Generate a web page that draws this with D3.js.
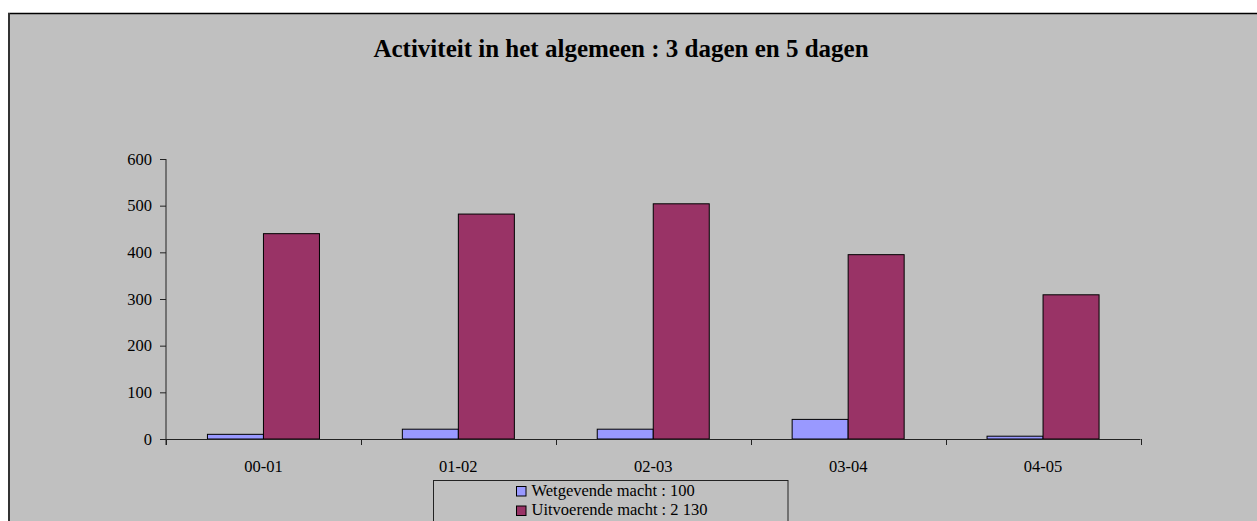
<!DOCTYPE html>
<html>
<head>
<meta charset="utf-8">
<script src="https://cdn.jsdelivr.net/npm/d3@7/dist/d3.min.js"></script>
<style>
  html, body { margin: 0; padding: 0; background: #ffffff; }
  svg { display: block; }
  text { font-family: "Liberation Serif", "Times New Roman", serif; fill: #000; }
</style>
</head>
<body>
<svg id="chart" width="1257" height="521"></svg>
<script>
// ---- data ----
const categories = ["00-01", "01-02", "02-03", "03-04", "04-05"];
const seriesNames = ["Wetgevende macht : 100", "Uitvoerende macht : 2 130"];
const wetgevende = [10, 21, 21, 42, 6];
const uitvoerende = [440, 482, 504, 395, 309];
const yTicks = [0, 100, 200, 300, 400, 500, 600];
const titleText = "Activiteit in het algemeen : 3 dagen en 5 dagen";
const seriesColors = ["#9999FF", "#993366"];

const seriesValues = [wetgevende, uitvoerende];
const rows = categories.map((c, i) => ({ cat: c, vals: seriesValues.map(s => s[i]) }));

const svg = d3.select("#chart");

// chart frame
svg.append("rect").attr("x", 9).attr("y", 13).attr("width", 1300).attr("height", 600)
  .attr("fill", "#C0C0C0");
svg.append("line").attr("x1", 8).attr("x2", 1257).attr("y1", 13.5).attr("y2", 13.5)
  .attr("stroke", "#000").attr("stroke-width", 1.5);
svg.append("line").attr("x1", 9).attr("x2", 9).attr("y1", 13).attr("y2", 521)
  .attr("stroke", "#333").attr("stroke-width", 2);

// title
svg.append("text").attr("x", 621).attr("y", 57).attr("text-anchor", "middle")
  .style("font-size", "25px").style("font-weight", "bold").text(titleText);

// scales
const x0 = d3.scaleBand().domain(categories).range([166, 1140.5]).paddingInner(0).paddingOuter(0);
const x1 = d3.scaleBand().domain([0, 1]).range([0, x0.bandwidth()]).paddingInner(0).paddingOuter(0.74);
const y = d3.scaleLinear().domain([0, 600]).range([439, 159]);

// bars
const g = svg.append("g");
rows.forEach(r => {
  r.vals.forEach((v, si) => {
    g.append("rect")
      .attr("x", x0(r.cat) + x1(si))
      .attr("y", y(v))
      .attr("width", x1.bandwidth())
      .attr("height", y(0) - y(v))
      .attr("fill", seriesColors[si])
      .attr("stroke", "#000")
      .attr("stroke-width", 1);
  });
});

// y axis
const yAxis = d3.axisLeft(y).tickValues(yTicks).tickSize(6).tickPadding(8).tickFormat(d3.format("d"));
const ya = svg.append("g").attr("transform", "translate(166,0)").call(yAxis);
ya.select(".domain").attr("d", "M0,159V445").attr("stroke", "#222");
ya.selectAll(".tick line").attr("stroke", "#222");
ya.selectAll("text").style("font-size", "16.5px").style("font-family", "Liberation Serif").attr("fill", "#000");

// x axis
const xAxis = d3.axisBottom(x0).tickSize(0).tickPadding(21);
const xa = svg.append("g").attr("transform", "translate(0,439)").call(xAxis);
xa.select(".domain").attr("d", "M166,0.5H1140.5").attr("stroke", "#222");
xa.selectAll("text").style("font-size", "16.5px").style("font-family", "Liberation Serif").attr("fill", "#000");
// boundary ticks between categories
const bounds = categories.map(c => x0(c)).concat([x0(categories[categories.length - 1]) + x0.bandwidth()]);
xa.selectAll(".bound").data(bounds).enter().append("line")
  .attr("x1", d => Math.round(d) + 0.5).attr("x2", d => Math.round(d) + 0.5)
  .attr("y1", 0).attr("y2", 6).attr("stroke", "#222");

// legend
const lg = svg.append("g");
lg.append("rect").attr("x", 433.5).attr("y", 480.5).attr("width", 354.5).attr("height", 60)
  .attr("fill", "#C0C0C0").attr("stroke", "#222").attr("stroke-width", 1);
seriesNames.forEach((n, i) => {
  lg.append("rect").attr("x", 516.5).attr("y", 486.5 + i * 19.5).attr("width", 9.5).attr("height", 9.5)
    .attr("fill", seriesColors[i]).attr("stroke", "#000");
  lg.append("text").attr("x", 531.5).attr("y", 496 + i * 18.5).style("font-size", "16.5px").text(n);
});
</script>
</body>
</html>
